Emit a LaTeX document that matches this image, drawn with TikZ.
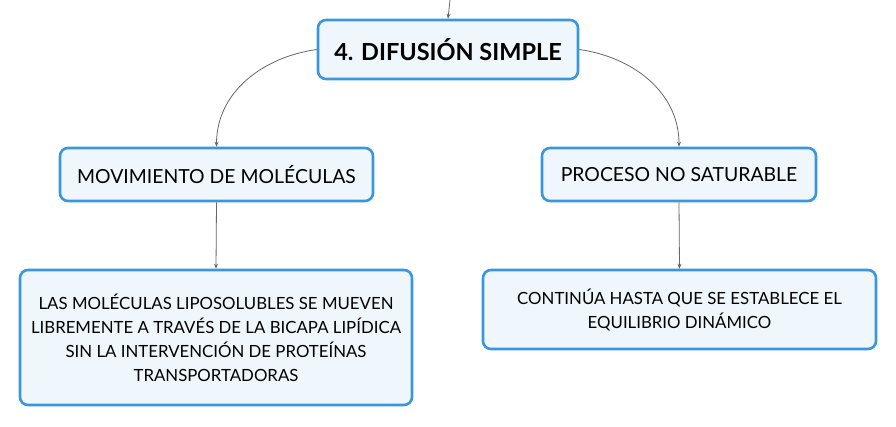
\documentclass[tikz,border=0pt]{standalone}
\usepackage{fontspec}
\setmainfont{Lato}
\usetikzlibrary{arrows.meta}
\definecolor{boxblue}{HTML}{3A96DD}
\definecolor{boxfill}{HTML}{EFF6FC}
\definecolor{linkgray}{HTML}{666666}
\begin{document}
\begin{tikzpicture}[x=1pt, y=-1pt,
        box/.style={rectangle, rounded corners=8pt, draw=boxblue, fill=boxfill, line width=2.6pt, align=center, inner sep=0pt},
        arrow/.style={-{Stealth[length=5pt, width=4pt]}, draw=linkgray, line width=0.8pt}
    ]
        \useasboundingbox (0,0) rectangle (896,426);
        \node[box, minimum width=260pt, minimum height=59pt, font=\bfseries\fontsize{23.5}{28}\selectfont] (topic) at (448,49.5) {4. DIFUSIÓN SIMPLE};
        \node[box, minimum width=313pt, minimum height=53pt, font=\fontsize{19.4}{22}\selectfont] (moves) at (216.5,174.5) {MOVIMIENTO DE MOLÉCULAS};
        \node[box, minimum width=274pt, minimum height=53pt, font=\fontsize{19.4}{22}\selectfont] (nosat) at (679,174.5) {PROCESO NO SATURABLE};
        \node[box, minimum width=392pt, minimum height=135pt, font=\fontsize{16.8}{24}\selectfont] (lipo) at (216,337.5) {LAS MOLÉCULAS LIPOSOLUBLES SE MUEVEN\\LIBREMENTE A TRAVÉS DE LA BICAPA LIPÍDICA\\SIN LA INTERVENCIÓN DE PROTEÍNAS\\TRANSPORTADORAS};
        \node[box, minimum width=393pt, minimum height=79pt, font=\fontsize{16.8}{24}\selectfont] (equil) at (679.5,309.5) {CONTINÚA HASTA QUE SE ESTABLECE EL\\EQUILIBRIO DINÁMICO};
        \coordinate (parent) at (450,0);

        \draw[arrow] (parent) -- (topic.north);
        \draw[arrow] (topic.west) to[out=188, in=90] (moves.north);
        \draw[arrow] (topic.east) to[out=-8, in=90] (nosat.north);
        \draw[arrow] (moves.south) -- (lipo.north);
        \draw[arrow] (nosat.south) -- (equil.north);
    \end{tikzpicture}
\end{document}
